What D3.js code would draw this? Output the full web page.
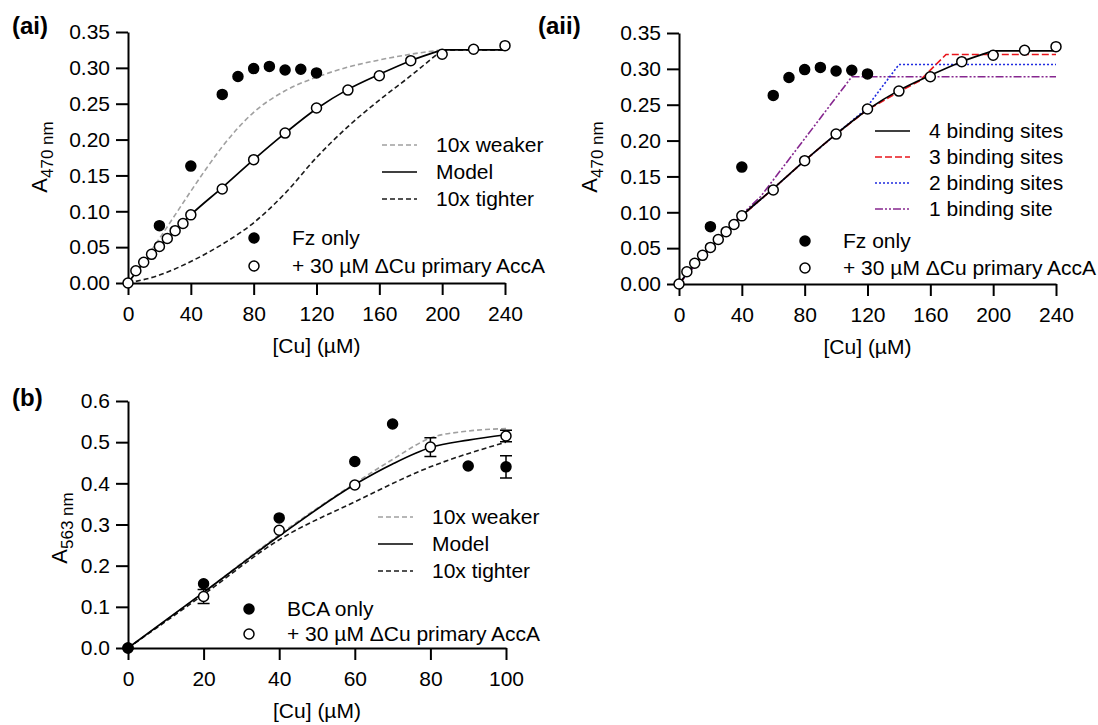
<!DOCTYPE html>
<html>
<head>
<meta charset="utf-8">
<script src="https://cdn.jsdelivr.net/npm/d3@7"></script>
<style>
  body { margin: 0; background: #fff; }
  svg text { font-family: "Liberation Sans", Arial, Helvetica, sans-serif; fill: #000; }
</style>
</head>
<body>
<svg id="fig" width="1098" height="725"></svg>
<script>
// ---------- Panel (ai): Fz competition, A470 ----------
const fzCu    = [20, 40, 60, 70, 80, 90, 100, 110, 120];
const fzA470  = [0.080, 0.163, 0.263, 0.288, 0.299, 0.302, 0.297, 0.298, 0.293];

const accaCu   = [0, 5, 10, 15, 20, 25, 30, 35, 40, 60, 80, 100, 120, 140, 160, 180, 200, 220, 240];
const accaA470 = [0, 0.017, 0.029, 0.040, 0.051, 0.062, 0.073, 0.083, 0.095, 0.131, 0.172, 0.209,
                  0.244, 0.269, 0.289, 0.310, 0.319, 0.326, 0.331];

const modelCu   = [0, 10, 20, 30, 40, 60, 80, 100, 120, 140, 160, 180, 200, 240];
const modelA470 = [0, 0.028, 0.051, 0.073, 0.095, 0.133, 0.172, 0.209, 0.243, 0.270, 0.291, 0.310, 0.325, 0.325];

const weakerCu   = [0, 10, 20, 30, 40, 50, 60, 80, 100, 120, 140, 160, 180, 200, 240];
const weakerA470 = [0, 0.030, 0.062, 0.095, 0.128, 0.160, 0.190, 0.238, 0.268, 0.287, 0.301, 0.311, 0.319, 0.325, 0.325];

const tighterCu   = [0, 20, 40, 60, 80, 100, 120, 140, 160, 180, 200, 240];
const tighterA470 = [0, 0.011, 0.030, 0.054, 0.084, 0.125, 0.175, 0.218, 0.255, 0.289, 0.325, 0.325];

// ---------- Panel (aii): binding-site stoichiometry ----------
const site3Cu = [0, 10, 20, 30, 40, 60, 80, 100, 120, 140, 153, 170, 240];
const site3A  = [0, 0.028, 0.051, 0.073, 0.095, 0.133, 0.172, 0.209, 0.243, 0.268, 0.283, 0.320, 0.320];
const site2Cu = [0, 10, 20, 30, 40, 60, 80, 100, 118, 140, 240];
const site2A  = [0, 0.028, 0.051, 0.073, 0.095, 0.133, 0.172, 0.209, 0.242, 0.306, 0.306];
const site1Cu = [0, 20, 40, 52, 110, 240];
const site1A  = [0, 0.050, 0.097, 0.122, 0.289, 0.289];

// ---------- Panel (b): BCA competition, A563 ----------
const bcaCu    = [0, 20, 40, 60, 70, 90, 100];
const bcaA563  = [0, 0.156, 0.316, 0.453, 0.544, 0.442, 0.440];
const bcaErr   = [0, 0, 0, 0, 0, 0, 0.027];

const accaBCu   = [0, 20, 40, 60, 80, 100];
const accaBA563 = [0, 0.125, 0.286, 0.396, 0.488, 0.515];
const accaBErr  = [0, 0.017, 0, 0, 0.023, 0.014];

const modelBCu    = [0, 20, 40, 60, 70, 80, 90, 100];
const modelBA563  = [0, 0.135, 0.272, 0.397, 0.447, 0.487, 0.505, 0.518];
const weakerBCu   = [0, 20, 40, 60, 70, 80, 90, 100];
const weakerBA563 = [0, 0.135, 0.275, 0.400, 0.458, 0.510, 0.527, 0.533];
const tighterBCu   = [0, 20, 40, 60, 80, 100];
const tighterBA563 = [0, 0.130, 0.263, 0.355, 0.440, 0.500];

// Tick values
const xTicksA = [0, 40, 80, 120, 160, 200, 240];
const yTicksA = [0, 0.05, 0.10, 0.15, 0.20, 0.25, 0.30, 0.35];
const xTicksB = [0, 20, 40, 60, 80, 100];
const yTicksB = [0, 0.1, 0.2, 0.3, 0.4, 0.5, 0.6];

const svg = d3.select("#fig");
const FS = 21;

const zip = (xs, ys) => xs.map((x, i) => [x, ys[i]]);

function axes(g, xs, ys, xTicks, yTicks, yFmt) {
  const x0 = xs.range()[0], y0 = ys.range()[0];
  const xa = g.append("g").attr("transform", `translate(0,${y0})`)
    .call(d3.axisBottom(xs).tickValues(xTicks).tickSize(12).tickSizeOuter(0)
      .tickPadding(11).tickFormat(d3.format("d")));
  const ya = g.append("g").attr("transform", `translate(${x0},0)`)
    .call(d3.axisLeft(ys).tickValues(yTicks).tickSize(12).tickSizeOuter(0)
      .tickPadding(6).tickFormat(d3.format(yFmt)));
  [xa, ya].forEach(a => {
    a.selectAll("path.domain").attr("stroke", "#000").attr("stroke-width", 2);
    a.selectAll(".tick line").attr("stroke", "#000").attr("stroke-width", 2);
    a.selectAll(".tick text").attr("font-size", FS).attr("fill", "#000")
      .attr("font-family", "Liberation Sans, Arial, sans-serif");
  });
}

// Smooth rising part plus straight plateau segment
function curve(g, xs, ys, cx, cy, style, plateau) {
  const pts = zip(cx, cy);
  const line = d3.line().x(d => xs(d[0])).y(d => ys(d[1]));
  const parts = plateau ? [pts.slice(0, -1), pts.slice(-2)] : [pts];
  parts.forEach((p, i) => {
    g.append("path").datum(p)
      .attr("d", line.curve(i === 0 ? d3.curveMonotoneX : d3.curveLinear))
      .attr("fill", "none")
      .attr("stroke", style.color)
      .attr("stroke-width", style.width || 1.6)
      .attr("stroke-dasharray", style.dash || null);
  });
}

function polyline(g, xs, ys, cx, cy, style) {
  g.append("path").datum(zip(cx, cy))
    .attr("d", d3.line().x(d => xs(d[0])).y(d => ys(d[1])))
    .attr("fill", "none")
    .attr("stroke", style.color)
    .attr("stroke-width", style.width || 1.6)
    .attr("stroke-dasharray", style.dash || null);
}

function dots(g, xs, ys, cx, cy, filled) {
  g.append("g").selectAll("circle").data(zip(cx, cy)).join("circle")
    .attr("cx", d => xs(d[0])).attr("cy", d => ys(d[1])).attr("r", 5)
    .attr("fill", filled ? "#000" : "#fff")
    .attr("stroke", "#000").attr("stroke-width", 1.5);
}

function errorBars(g, xs, ys, cx, cy, err) {
  cx.forEach((x, i) => {
    if (!err[i]) return;
    const px = xs(x), lo = ys(cy[i] - err[i]), hi = ys(cy[i] + err[i]);
    g.append("path")
      .attr("d", `M${px},${lo}V${hi}M${px - 6},${lo}H${px + 6}M${px - 6},${hi}H${px + 6}`)
      .attr("stroke", "#000").attr("stroke-width", 1.5).attr("fill", "none");
  });
}

function xTitle(g, xs, ys, text) {
  const r = xs.range();
  g.append("text").attr("x", (r[0] + r[1]) / 2).attr("y", ys.range()[0] + 70)
    .attr("text-anchor", "middle").attr("font-size", FS).text(text);
}

function yTitle(g, x, y, sub) {
  const t = g.append("text").attr("transform", `translate(${x},${y}) rotate(-90)`)
    .attr("text-anchor", "middle").attr("font-size", FS + 1);
  t.append("tspan").text("A");
  t.append("tspan").attr("font-size", 17).attr("dy", 6).text(sub);
}

function panelLabel(x, y, text) {
  svg.append("text").attr("x", x).attr("y", y).attr("font-size", 24)
    .attr("font-weight", "bold").text(text);
}

function legendLine(g, x, y, style, label) {
  g.append("line").attr("x1", x).attr("x2", x + 35).attr("y1", y).attr("y2", y)
    .attr("stroke", style.color).attr("stroke-width", style.width || 1.6)
    .attr("stroke-dasharray", style.dash || null);
  g.append("text").attr("x", x + 54).attr("y", y + 7).attr("font-size", FS).text(label);
}

function legendDot(g, x, y, filled, label) {
  g.append("circle").attr("cx", x).attr("cy", y).attr("r", 5)
    .attr("fill", filled ? "#000" : "#fff").attr("stroke", "#000").attr("stroke-width", 1.5);
  g.append("text").attr("x", x + 38).attr("y", y + 7).attr("font-size", FS).text(label);
}

const S_MODEL   = { color: "#000", width: 1.7 };
const S_WEAKER  = { color: "#a0a0a0", dash: "5,3", width: 1.6 };
const S_TIGHTER = { color: "#1a1a1a", dash: "5,3", width: 1.6 };
const S_SITE3   = { color: "#e8141b", dash: "7,3", width: 1.6 };
const S_SITE2   = { color: "#1f2be0", dash: "2,2", width: 1.6 };
const S_SITE1   = { color: "#86278f", dash: "8,2,2,2,2,2", width: 1.6 };
const ACCA_LABEL = "+ 30 \u00b5M \u0394Cu primary AccA";

// ---------- (ai) ----------
{
  const g = svg.append("g");
  const xs = d3.scaleLinear().domain([0, 240]).range([128, 505]);
  const ys = d3.scaleLinear().domain([0, 0.35]).range([283, 32]);
  curve(g, xs, ys, weakerCu, weakerA470, S_WEAKER, true);
  curve(g, xs, ys, tighterCu, tighterA470, S_TIGHTER, true);
  curve(g, xs, ys, modelCu, modelA470, S_MODEL, true);
  axes(g, xs, ys, xTicksA, yTicksA, ".2f");
  dots(g, xs, ys, fzCu, fzA470, true);
  dots(g, xs, ys, accaCu, accaA470, false);
  xTitle(g, xs, ys, "[Cu] (\u00b5M)");
  yTitle(g, 47, 157, "470 nm");
  legendLine(g, 382, 145, S_WEAKER, "10x weaker");
  legendLine(g, 382, 172, S_MODEL, "Model");
  legendLine(g, 382, 199, S_TIGHTER, "10x tighter");
  legendDot(g, 254, 238, true, "Fz only");
  legendDot(g, 254, 266, false, ACCA_LABEL);
  panelLabel(12, 34, "(ai)");
}

// ---------- (aii) ----------
{
  const g = svg.append("g");
  const xs = d3.scaleLinear().domain([0, 240]).range([679, 1056]);
  const ys = d3.scaleLinear().domain([0, 0.35]).range([284, 33]);
  polyline(g, xs, ys, site1Cu, site1A, S_SITE1);
  polyline(g, xs, ys, site2Cu, site2A, S_SITE2);
  polyline(g, xs, ys, site3Cu, site3A, S_SITE3);
  curve(g, xs, ys, modelCu, modelA470, S_MODEL, true);
  axes(g, xs, ys, xTicksA, yTicksA, ".2f");
  dots(g, xs, ys, fzCu, fzA470, true);
  dots(g, xs, ys, accaCu, accaA470, false);
  xTitle(g, xs, ys, "[Cu] (\u00b5M)");
  yTitle(g, 597, 157, "470 nm");
  legendLine(g, 875, 131, S_MODEL, "4 binding sites");
  legendLine(g, 875, 157, S_SITE3, "3 binding sites");
  legendLine(g, 875, 183, S_SITE2, "2 binding sites");
  legendLine(g, 875, 209, S_SITE1, "1 binding site");
  legendDot(g, 805, 241, true, "Fz only");
  legendDot(g, 805, 268, false, ACCA_LABEL);
  panelLabel(538, 34, "(aii)");
}

// ---------- (b) ----------
{
  const g = svg.append("g");
  const xs = d3.scaleLinear().domain([0, 100]).range([128, 506]);
  const ys = d3.scaleLinear().domain([0, 0.6]).range([648, 401]);
  curve(g, xs, ys, weakerBCu, weakerBA563, S_WEAKER, false);
  curve(g, xs, ys, tighterBCu, tighterBA563, S_TIGHTER, false);
  curve(g, xs, ys, modelBCu, modelBA563, S_MODEL, false);
  axes(g, xs, ys, xTicksB, yTicksB, ".1f");
  errorBars(g, xs, ys, bcaCu, bcaA563, bcaErr);
  errorBars(g, xs, ys, accaBCu, accaBA563, accaBErr);
  dots(g, xs, ys, accaBCu, accaBA563, false);
  dots(g, xs, ys, bcaCu, bcaA563, true);
  xTitle(g, xs, ys, "[Cu] (\u00b5M)");
  yTitle(g, 67, 528, "563 nm");
  legendLine(g, 378, 517, S_WEAKER, "10x weaker");
  legendLine(g, 378, 544, S_MODEL, "Model");
  legendLine(g, 378, 571, S_TIGHTER, "10x tighter");
  legendDot(g, 249, 609, true, "BCA only");
  legendDot(g, 249, 634, false, ACCA_LABEL);
  panelLabel(12, 406, "(b)");
}
</script>
</body>
</html>
